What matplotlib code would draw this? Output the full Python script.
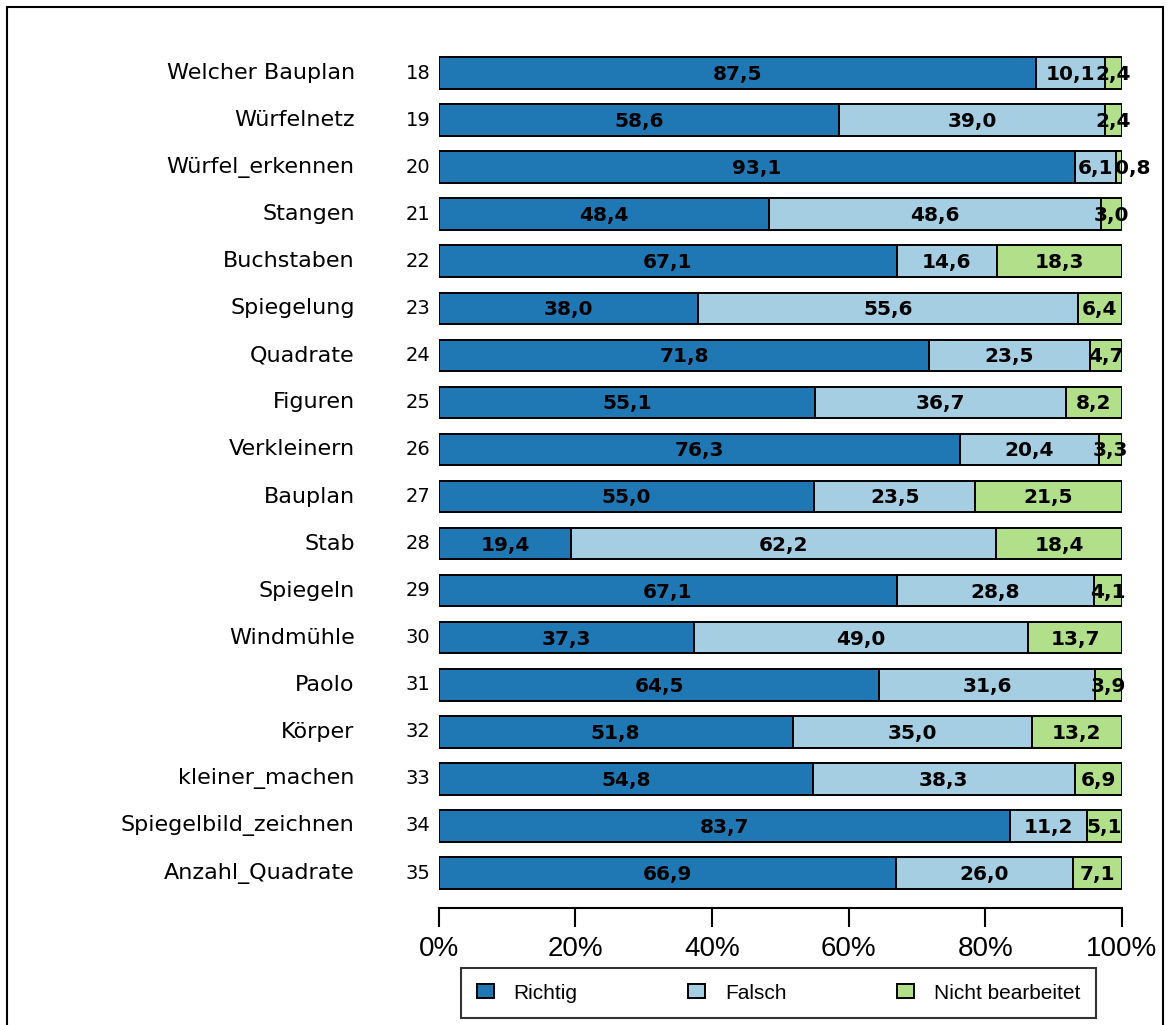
import matplotlib.pyplot as plt
import matplotlib.patches as mpatches
import numpy as np

names = ['Welcher Bauplan', 'Würfelnetz', 'Würfel_erkennen', 'Stangen', 'Buchstaben',
         'Spiegelung', 'Quadrate', 'Figuren', 'Verkleinern', 'Bauplan', 'Stab',
         'Spiegeln', 'Windmühle', 'Paolo', 'Körper', 'kleiner_machen',
         'Spiegelbild_zeichnen', 'Anzahl_Quadrate']
nums = list(range(18, 36))
richtig = [87.5, 58.6, 93.1, 48.4, 67.1, 38.0, 71.8, 55.1, 76.3, 55.0, 19.4, 67.1,
           37.3, 64.5, 51.8, 54.8, 83.7, 66.9]
falsch = [10.1, 39.0, 6.1, 48.6, 14.6, 55.6, 23.5, 36.7, 20.4, 23.5, 62.2, 28.8,
          49.0, 31.6, 35.0, 38.3, 11.2, 26.0]
nicht = [2.4, 2.4, 0.8, 3.0, 18.3, 6.4, 4.7, 8.2, 3.3, 21.5, 18.4, 4.1,
         13.7, 3.9, 13.2, 6.9, 5.1, 7.1]
series = ['Richtig', 'Falsch', 'Nicht bearbeitet']
colors = ['#1f78b4', '#a6cee3', '#b2df8a']

fig = plt.figure(figsize=(11.7, 10.25), dpi=100)
ax = fig.add_axes([0.375, 1 - 908 / 1025, 0.5838, (908 - 49.5) / 1025])

y = np.arange(len(names))
left = np.zeros(len(names))
handles = []
for vals, col, lab in zip([richtig, falsch, nicht], colors, series):
    vals = np.array(vals)
    b = ax.barh(y, vals, left=left, height=0.67, color=col, edgecolor='black',
                linewidth=1.4, label=lab)
    handles.append(b)
    for i, v in enumerate(vals):
        cx = left[i] + v / 2
        if v < 1.5:
            cx += 2.0
        ax.text(cx, y[i] + 0.03, f'{v:.1f}'.replace('.', ','), ha='center', va='center',
                fontsize=14.5, fontweight='bold', color='black')
    left += vals

ax.set_xlim(0, 100)
ax.set_ylim(len(names) - 1 + 35 / 47.06, -0.5)
for s in ['left', 'top', 'right']:
    ax.spines[s].set_visible(False)
ax.spines['bottom'].set_linewidth(1.5)
ax.set_xticks([0, 20, 40, 60, 80, 100])
ax.set_xticklabels(['0%', '20%', '40%', '60%', '80%', '100%'],
                   fontsize=20, family='Liberation Sans')
ax.tick_params(axis='x', direction='out', length=14, width=1.5, pad=6)
ax.set_yticks([])

for i in range(len(names)):
    ax.text(-0.012, y[i], str(nums[i]), transform=ax.get_yaxis_transform(),
            ha='right', va='center', fontsize=14)
    ax.text(-0.123, y[i], names[i], transform=ax.get_yaxis_transform(),
            ha='right', va='center', fontsize=16)

leg = fig.legend(handles=handles, labels=series, loc='upper left',
                 bbox_to_anchor=(461 / 1170, 1 - 968 / 1025),
                 ncol=3, frameon=True, fancybox=False,
                 edgecolor='black', handlelength=0.82, handleheight=0.63,
                 borderaxespad=0, prop={'family': 'Liberation Sans', 'size': 15},
                 borderpad=0.75, handletextpad=0.95, columnspacing=5.3)
leg.get_frame().set_linewidth(1.5)

border = mpatches.Rectangle((7 / 1170, -0.02), (1163 - 7) / 1170, 1 - 7 / 1025 + 0.02,
                            transform=fig.transFigure, fill=False, edgecolor='black',
                            linewidth=1.5, clip_on=False)
fig.patches.append(border)

fig.savefig('out.png', dpi=100)
